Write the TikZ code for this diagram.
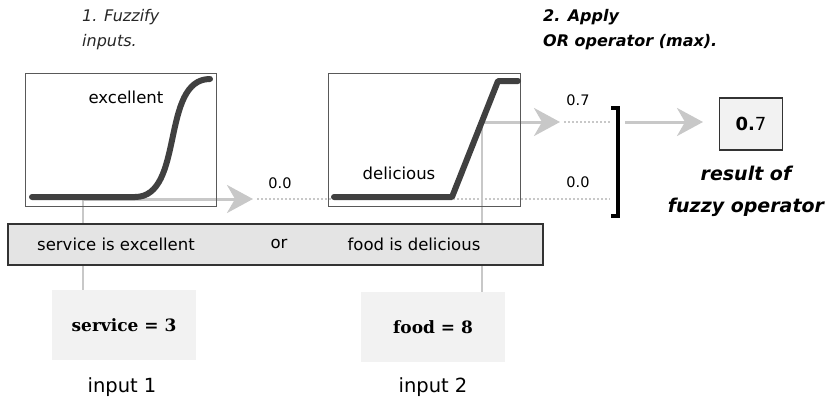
\documentclass[tikz,border=0pt]{standalone}
\usepackage{fontspec}
\setmainfont{DejaVu Sans}
\newfontfamily\serifface{DejaVu Serif}
\usepackage{tikz}
\usetikzlibrary{arrows.meta,positioning,calc}
\definecolor{curvegray}{RGB}{64,64,64}
\definecolor{ghostgray}{RGB}{200,200,200}
\definecolor{rulefill}{RGB}{228,228,228}
\definecolor{inputfill}{RGB}{242,242,242}
\tikzset{
	mfbox/.style={
		draw=black!65, line width=1.2pt, rectangle,
		inner sep=0pt, anchor=north west
	},
	mfcurve/.style={line width=6pt, draw=curvegray, line cap=round, line join=round},
	ghostline/.style={draw=ghostgray, line width=2pt},
	ghostarrow/.style={draw=ghostgray, line width=3pt,
		-{Stealth[length=26pt,width=28pt,inset=8pt,fill=ghostgray]}},
	dotline/.style={draw=ghostgray, line width=2pt, dotted},
	label/.style={font=\fontsize{16.5}{20}\selectfont, inner sep=0pt},
	small/.style={font=\fontsize{14.5}{18}\selectfont, inner sep=0pt},
	step note/.style={font=\fontsize{16}{25}\selectfont\itshape, align=left,
		anchor=north west, inner sep=0pt, text=black!85},
	inputbox/.style={fill=inputfill, minimum width=144pt, minimum height=70pt,
		font=\fontsize{17}{20}\selectfont\serifface\bfseries},
	bracket/.style={line width=4pt, draw=black}
}

\begin{document}
\begin{tikzpicture}[x=1pt,y=-1pt]
  \useasboundingbox (0,0) rectangle (831,400);
  % input boxes and rule
  \node[inputbox] (svc)  at (124,325) {service = 3};
  \node[inputbox] (food) at (433,327) {food = 8};
  \node[font=\fontsize{19.5}{22}\selectfont] (in1) at (122,387) {input 1};
  \node[font=\fontsize{19.5}{22}\selectfont] (in2) at (433,387) {input 2};
  % connectors
  \coordinate (p1) at (83,199);
  \coordinate (t1) at (253,199);
  \coordinate (p2) at (482,122);
  \coordinate (t2) at (560,122);
  \coordinate (bt) at (618,108);
  \coordinate (bb) at (618,216);
  \coordinate (t3) at (703,122);
  \draw[ghostline] (p1) -- (p1 |- svc.north);
  \draw[ghostline] (p2) -- (p2 |- food.north);
  \draw[dotline] ([xshift=4pt]t1) -- ([xshift=-8pt]bt |- t1);
  \draw[dotline] ([xshift=4pt]t2) -- ([xshift=-8pt]bt |- t2);
  \draw[ghostarrow] (p1) -- (t1);
  \draw[ghostarrow] (p2) -- (t2);
  \draw[ghostarrow] ([xshift=7pt]bt |- t2) -- (t3);
  % membership functions
  \node[mfbox, minimum width=191pt, minimum height=133pt] (exc) at (25,73) {};
  \node[mfbox, minimum width=192pt, minimum height=133pt] (del) at (328,73) {};
  \draw[mfcurve] (32,197) -- (135,197) .. controls (185,197) and (160,79) .. (210,79);
  \draw[mfcurve] (334,197) -- (452,197) -- (498,81) -- (518,81);
  \node[label] (excl) at (126,97) {excellent};
  \node[label] (dell) at (399,173) {delicious};
  % rule
  \node[draw=black!80, line width=1.5pt, fill=rulefill, anchor=north west,
    minimum width=535pt, minimum height=41pt, inner sep=0pt] (rule) at (7,223) {};
  \node[label] (r1) at (116,244) {service is excellent};
  \node[label] (r2) at (279,244) {or};
  \node[label] (r3) at (414,244) {food is delicious};
  % operator
  \node[small] (v7) at (578,100) {0.7};
  \node[small] (v0) at (578,182) {0.0};
  \node[small] (u0) at (280,183) {0.0};
  \draw[bracket] ([xshift=-7pt]bt) -- (bt) -- (bb) -- ([xshift=-7pt]bb);
  \node[draw=black!80, line width=1.5pt, fill=inputfill, minimum width=63pt,
    minimum height=52pt, font=\fontsize{18}{20}\selectfont] (res) at (751,124) {\textbf{0.}7};
  \node[font=\fontsize{19}{32}\selectfont\bfseries\itshape, align=center] (resl)
    at (746,191) {result of\\fuzzy operator};
  % steps
  \node[step note] (s1) at (82,9) {1. Fuzzify\\inputs.};
  \node[step note, font=\fontsize{16}{25}\selectfont\bfseries\itshape, text=black] (s2)
    at (543,9) {2. Apply\\OR operator (max).};
\end{tikzpicture}
\end{document}
